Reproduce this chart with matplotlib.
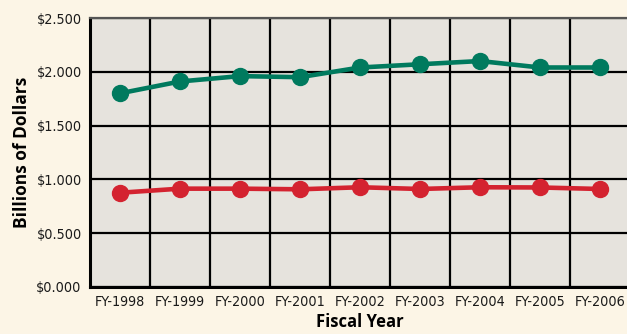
import numpy as np
import matplotlib.pyplot as plt

years = ['FY-1998', 'FY-1999', 'FY-2000', 'FY-2001', 'FY-2002',
         'FY-2003', 'FY-2004', 'FY-2005', 'FY-2006']
green_vals = [1.80, 1.91, 1.96, 1.95, 2.04, 2.07, 2.10, 2.04, 2.04]
red_vals = [0.876, 0.914, 0.914, 0.908, 0.927, 0.911, 0.927, 0.925, 0.911]
yticks = [0.0, 0.5, 1.0, 1.5, 2.0, 2.5]

bg = '#fcf5e6'
fig = plt.figure(figsize=(6.27, 3.34), dpi=100, facecolor=bg)
ax = fig.add_axes([90/627, 47/334, 540/627, 269/334])
ax.set_facecolor('#e6e3dd')

x = np.arange(len(years))
ax.plot(x, green_vals, color='#007a5e', lw=3.3, marker='o', ms=11.5, zorder=3)
ax.plot(x, red_vals, color='#d42330', lw=3.3, marker='o', ms=11.5, zorder=3)

ax.set_xlim(-0.5, len(years) - 0.5)
ax.set_ylim(0, 2.5)
ax.set_xticks(x)
ax.set_xticklabels(years)
ax.set_xticks(np.arange(-0.5, len(years)), minor=True)
ax.set_yticks(yticks)
ax.set_yticklabels(['$%.3f' % v for v in yticks])

ax.grid(True, which='minor', axis='x', color='black', lw=1.6)
ax.grid(True, which='major', axis='y', color='black', lw=1.6)
ax.tick_params(which='both', length=0)
ax.tick_params(axis='x', pad=6)
ax.tick_params(axis='y', pad=6)
for lab in ax.get_xticklabels() + ax.get_yticklabels():
    lab.set_fontfamily('DejaVu Sans')
    lab.set_fontstretch('condensed')
    lab.set_fontsize(10.3)
    lab.set_color('#1a1a1a')

for s in ['top', 'right']:
    ax.spines[s].set_color('#555555')
    ax.spines[s].set_linewidth(1.6)
for s in ['left', 'bottom']:
    ax.spines[s].set_color('black')
    ax.spines[s].set_linewidth(2.2)

ax.set_axisbelow(True)
fig.text(360/627, 1 - 322/334, 'Fiscal Year', ha='center', va='center',
         fontsize=12, fontweight='bold', family='Open Sans')
fig.text(22/627, 1 - 152/334, 'Billions of Dollars', ha='center', va='center',
         rotation=90, fontsize=12.5, fontweight='bold', family='Open Sans')

fig.savefig('out.png', dpi=100, facecolor=bg)
